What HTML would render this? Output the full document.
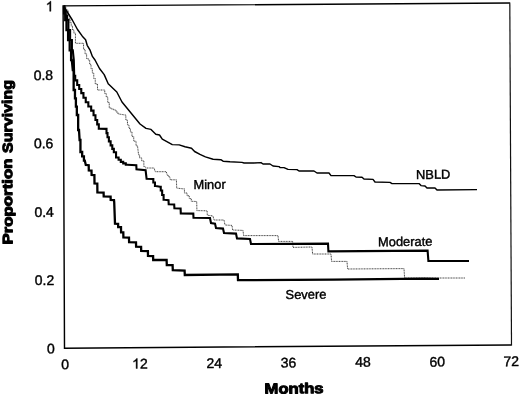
<!DOCTYPE html>
<html><head><meta charset="utf-8"><title>Survival</title>
<style>
html,body{margin:0;padding:0;background:#fff;}
body{width:520px;height:395px;overflow:hidden;}
svg{display:block;filter:grayscale(1);}
text{font-family:"Liberation Sans",sans-serif;fill:#000;}
.t{font-size:14px;stroke:#000;stroke-width:0.4px;}
.l{font-size:12.9px;stroke:#000;stroke-width:0.4px;}
.b{font-weight:bold;font-size:14.5px;stroke:#000;stroke-width:1px;stroke-linejoin:round;}
</style></head><body>
<svg width="520" height="395" viewBox="0 0 520 395">
<rect width="520" height="395" fill="#fff"/>
<!-- frame -->
<path d="M511.5,345 L64.5,348.2 L63.1,5.9 L509.8,3" fill="none" stroke="#000" stroke-width="1.45" stroke-linejoin="miter"/>
<path d="M509.8,2.4 L511.5,345.6" fill="none" stroke="#111" stroke-width="1.2"/>
<!-- curves -->
<path d="M64,7L65.80,7.00L65.80,10.00L67.60,10.00L68.07,10.00L68.07,14.60L69.02,14.60L69.02,19.20L69.50,19.20L70.08,19.20L70.08,22.70L71.22,22.70L71.22,26.20L71.80,26.20L72.50,26.20L72.50,30.00L73.20,30.00L73.95,30.00L73.95,33.20L74.70,33.20L75.45,33.20L75.45,43.30L76.20,43.30L82.8,43.3L83.55,43.30L83.55,49.40L84.30,49.40L85.08,49.40L85.08,53.95L86.62,53.95L86.62,58.50L87.40,58.50L88.20,58.50L88.20,60.00L89.00,60.00L89.67,60.00L89.67,64.33L91.00,64.33L91.00,68.67L92.33,68.67L92.33,73.00L93.00,73.00L93.75,73.00L93.75,78.50L95.25,78.50L95.25,84.00L96.00,84.00L97.50,84.00L97.50,90.00L99.00,90.00L104,90L104.75,90.00L104.75,93.50L106.25,93.50L106.25,97.00L107.00,97.00L107.75,97.00L107.75,102.50L109.25,102.50L109.25,108.00L110.00,108.00L111.25,108.00L111.25,109.00L113.75,109.00L113.75,110.00L115.00,110.00L116.00,110.00L116.00,112.00L118.00,112.00L118.00,114.00L119.00,114.00L125,115L125.83,115.00L125.83,120.00L127.48,120.00L127.48,125.00L128.30,125.00L129.00,125.00L129.00,128.45L130.40,128.45L130.40,131.90L131.10,131.90L131.97,131.90L131.97,136.55L133.72,136.55L133.72,141.20L134.60,141.20L136.05,141.20L136.05,145.80L137.50,145.80L138.6,155L139.62,155.00L139.62,157.90L141.68,157.90L141.68,160.80L142.70,160.80L143.85,160.80L143.85,166.50L145.00,166.50L145.6,168L154.1,168L155.2,171.7L166.3,171.7L167.3,175.3L168.55,175.30L168.55,176.80L169.80,176.80L170.3,179.8L176.4,179.8L176.7,188.1L182.9,188.8L184.45,188.80L184.45,193.00L186.00,193.00L187.10,193.00L187.10,195.75L189.30,195.75L189.30,198.50L190.40,198.50L191.25,198.50L191.25,201.30L192.10,201.30L196.7,201.5L196.9,210.6L207.1,210.8L207.3,215.2L213,216L214,220L224,220L225,225L232,225.4L232.6,230L243,230.4L243.6,235.6L278,235.6L278.6,241.4L292.6,241.4L293,247.4L312,247L312.6,254L331,254L331.6,261.4L347,261.4L347.6,269L404,268.6L404.6,278L465,278" fill="none" stroke="#2a2a2a" stroke-width="0.9" stroke-dasharray="1 0.6"/>
<path d="M63.8,6.5L72.3,20L77.5,29.5L82.3,36.2L85.6,39.7L87.2,45.3L90.2,50.4L92.4,56.4L95,60L99.5,68.5L104.2,74.6L108.2,83.8L116.8,92L122,102L131,113L140,124L146,128.4L151,129.4L155.8,134.2L159.5,135L162.3,139.2L172.3,144.6L179.2,144.9L185,146.8L191.5,148.2L194.6,151.5L200,154.4L205.4,156.9L213.1,159.2L220.8,159.7L223.1,161.2L230,161.8L242,162.4L244,163L254,163L261,162.6L263,164L270,164L273,166L279,166.6L280,167.6L284,167.6L288,169.4L297,169.6L299,171L314,171L317,173L329,173L331,175.6L354,175.6L356,177L362,177.2L364,179L373,179.4L375,182L390,182.4L392,183.6L419,183.6L421,185.6L425,186L427,188L435,188L437,190L477,189.6" fill="none" stroke="#000" stroke-width="1.45" stroke-linejoin="round"/>
<path d="M63.8,6.5L64.43,6.50L64.43,11.00L65.70,11.00L65.70,15.50L66.97,15.50L66.97,20.00L67.60,20.00L68.40,20.00L68.40,30.00L69.20,30.00L70.10,30.00L70.10,40.00L71.00,40.00L71.90,40.00L71.90,50.40L72.80,50.40L73.8,60L74.2,75.8L75.20,75.80L75.20,80.40L77.20,80.40L77.20,85.00L78.20,85.00L79.22,85.00L79.22,89.05L81.27,89.05L81.27,93.10L82.30,93.10L83.45,93.10L83.45,97.70L85.75,97.70L85.75,102.30L86.90,102.30L88.33,102.30L88.33,106.45L91.17,106.45L91.17,110.60L92.60,110.60L93.55,110.60L93.55,115.30L95.45,115.30L95.45,120.00L96.40,120.00L97.20,120.00L97.20,124.35L98.80,124.35L98.80,128.70L99.60,128.70L106,128.9L106.50,128.90L106.50,133.10L107.50,133.10L107.50,137.30L108.00,137.30L108.88,137.30L108.88,141.35L110.62,141.35L110.62,145.40L111.50,145.40L112.28,145.40L112.28,148.85L113.83,148.85L113.83,152.30L114.60,152.30L116.05,152.30L116.05,157.50L117.50,157.50L118.60,157.50L118.60,159.70L120.80,159.70L120.80,161.90L121.90,161.90L123.20,161.90L123.20,163.35L125.80,163.35L125.80,164.80L127.10,164.80L136.3,165.2L136.5,169.4L145.6,170.2L146.6,178.8L152.5,179L153.32,179.00L153.32,182.50L154.97,182.50L154.97,186.00L155.80,186.00L160,186.8L160.75,186.80L160.75,190.50L161.50,190.50L162.15,190.50L162.15,195.00L162.80,195.00L163.60,195.00L163.60,199.80L164.40,199.80L168.5,200.2L168.7,204.2L174.2,204.4L174.4,208.3L180.6,208.5L180.8,213.4L193.3,213.6L193.5,217.8L210,218L211,223L215,223.6L216,228L223,228.6L224,233L236,233.6L237,238.4L250,239L251,244L328,243.6L328.4,251.4L427.6,250.6L428.4,261L469,261" fill="none" stroke="#000" stroke-width="2.1" stroke-linejoin="miter"/>
<path d="M63.5,6.5L64.08,6.50L64.08,13.25L65.22,13.25L65.22,20.00L65.80,20.00L66.50,20.00L66.50,30.00L67.20,30.00L68.10,30.00L68.10,40.00L69.00,40.00L69.70,40.00L69.70,50.40L70.40,50.40L71.10,50.40L71.10,60.00L71.80,60.00L72.8,70L73.65,70.00L73.65,90.00L74.50,90.00L74.97,90.00L74.97,98.33L75.90,98.33L75.90,106.67L76.83,106.67L76.83,115.00L77.30,115.00L78.15,115.00L78.15,130.00L79.00,130.00L79.6,140L80.45,140.00L80.45,152.00L81.30,152.00L82.17,152.00L82.17,156.30L83.92,156.30L83.92,160.60L84.80,160.60L85.8,165L88.7,165.2L88.8,170.5L91.5,170.6L91.6,175L94.4,175.1L94.5,183.5L97.3,183.6L97.4,192.4L103.6,192.6L103.7,196.4L110.6,196.6L110.7,199.8L114,200L114.2,202L115,223.7L118.1,223.9L118.2,227.1L121,227.2L121.1,232.3L123.3,232.4L123.4,237.5L129,237.7L129.1,242.1L136,242.3L136.1,246.7L141.1,246.9L141.2,250.8L147.9,251L148,256L153.1,256.2L153.2,260L166.6,260L166.8,265L172.6,265.1L172.8,270.2L184.6,270.6L184.8,275L237.8,274.4L238,280.2L334,279.6L424,278.6L439,278.9" fill="none" stroke="#000" stroke-width="2.3" stroke-linejoin="miter"/>
<!-- y tick labels -->
<path d="M763 0H583V1147Q518 1085 412 1023Q307 961 223 930V1104Q374 1175 487 1276Q600 1377 647 1472H763Z" transform="translate(45.7,11.3) scale(0.006836,-0.006836)" fill="#000" stroke="#000" stroke-width="58" stroke-linejoin="round"/>
<text class="t" text-anchor="end" transform="translate(53.1,80) rotate(-0.4)">0.8</text>
<text class="t" text-anchor="end" transform="translate(53.4,148.2) rotate(-0.4)">0.6</text>
<text class="t" text-anchor="end" transform="translate(53.9,216.8) rotate(-0.4)">0.4</text>
<text class="t" text-anchor="end" transform="translate(54.3,284.9) rotate(-0.4)">0.2</text>
<text class="t" text-anchor="end" transform="translate(54.9,353.4) rotate(-0.4)">0</text>
<!-- x tick labels -->
<text class="t" text-anchor="middle" transform="translate(65.1,369.2) rotate(-0.4)">0</text>
<path d="M763 0H583V1147Q518 1085 412 1023Q307 961 223 930V1104Q374 1175 487 1276Q600 1377 647 1472H763Z" transform="translate(132.1,368.5) scale(0.006836,-0.006836)" fill="#000" stroke="#000" stroke-width="58" stroke-linejoin="round"/><text class="t" text-anchor="start" transform="translate(139.9,368.5) rotate(-0.4)">2</text>
<text class="t" text-anchor="middle" transform="translate(214.2,368) rotate(-0.4)">24</text>
<text class="t" text-anchor="middle" transform="translate(288.5,367.5) rotate(-0.4)">36</text>
<text class="t" text-anchor="middle" transform="translate(363,366.8) rotate(-0.4)">48</text>
<text class="t" text-anchor="middle" transform="translate(437.3,366.6) rotate(-0.4)">60</text>
<text class="t" text-anchor="middle" transform="translate(511.2,366.1) rotate(-0.4)">72</text>
<!-- curve labels -->
<text class="l" text-anchor="start" transform="translate(193.5,189) rotate(-0.4)">Minor</text>
<text class="l" text-anchor="start" transform="translate(416,179) rotate(-0.4)">NBLD</text>
<text class="l" text-anchor="start" transform="translate(378,246.2) rotate(-0.4)">Moderate</text>
<text class="l" text-anchor="start" transform="translate(285.6,299) rotate(-0.4)">Severe</text>
<!-- titles -->
<text class="b" transform="translate(264.6,393.6) rotate(-0.4)" textLength="59" lengthAdjust="spacingAndGlyphs">Months</text>
<text class="b" transform="translate(12.6,244.6) rotate(-90.4)" textLength="86.2" lengthAdjust="spacingAndGlyphs" style="font-size:14px">Proportion</text>
<text class="b" transform="translate(12.4,152.9) rotate(-90.4)" textLength="73" lengthAdjust="spacingAndGlyphs" style="font-size:14px">Surviving</text>
</svg>
</body></html>
